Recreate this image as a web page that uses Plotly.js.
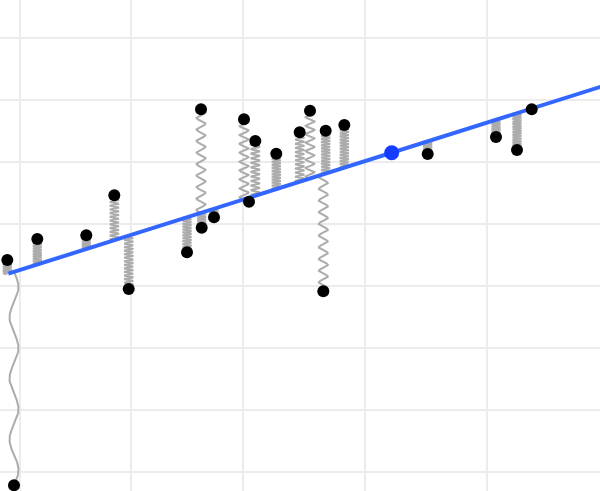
<!DOCTYPE html>
<html>
<head>
<meta charset="utf-8">
<script src="https://cdn.plot.ly/plotly-3.0.1.min.js"></script>
<style>html,body{margin:0;padding:0;background:#fff;}#chart{width:600px;height:491px;}</style>
</head>
<body>
<div id="chart"></div>
<script>
// Data points
const xs = [0.73, 1.40, 3.73, 8.63, 11.43, 12.87, 18.70, 20.10, 20.17, 21.40, 24.40, 24.90, 25.53, 27.63, 29.97, 31.00, 32.33, 32.57, 34.43, 42.77, 49.60, 51.70, 53.17];
const ys = [3.419, -0.215, 3.758, 3.818, 4.463, 2.952, 3.544, 5.850, 3.940, 4.108, 5.689, 4.360, 5.339, 5.134, 5.479, 5.827, 2.915, 5.505, 5.597, 5.129, 5.403, 5.194, 5.850];
// number of visible coils in each spring
const coils = [6, 3.5, 10, 6, 12, 15, 12, 9, 6, 4, 9, 2, 12, 12, 12, 8, 10, 14, 14, 6, 8, 14, 1];
// fitted line: pivot point and slope
const pivotX = [39.17];
const pivotY = [5.150];
const slope = [0.05087];
const lineX = [0.83, 62];
// grid positions
const xGrid = [2.0, 13.1, 24.3, 36.5, 48.7, 59.9];
const yGrid = [0, 1, 2, 3, 4, 5, 6, 7];

const lineAt = x => pivotY[0] + slope[0] * (x - pivotX[0]);

// springs
const sx = [], sy = [];
const amp = 0.45;
const steps = 300;
for (let i = 0; i < xs.length; i++) {
  const y0 = ys[i], y1 = lineAt(xs[i]);
  for (let k = 0; k <= steps; k++) {
    const t = k / steps;
    sx.push(xs[i] + amp * Math.sin(2 * Math.PI * coils[i] * t));
    sy.push(y0 + (y1 - y0) * t);
  }
  sx.push(null); sy.push(null);
}

const traces = [
  {x: sx, y: sy, mode: 'lines', line: {color: '#acacac', width: 2}, hoverinfo: 'skip'},
  {x: lineX, y: lineX.map(lineAt), mode: 'lines', line: {color: 'rgb(51,102,255)', width: 4}},
  {x: xs, y: ys, mode: 'markers', marker: {color: '#000', size: 12}},
  {x: pivotX, y: pivotY, mode: 'markers', marker: {color: 'rgb(20,60,255)', size: 15}}
];

const layout = {
  width: 600, height: 491,
  margin: {l: 0, r: 0, t: 0, b: 0, pad: 0},
  paper_bgcolor: '#fff', plot_bgcolor: '#fff',
  showlegend: false,
  xaxis: {range: [0, 60], tickmode: 'array', tickvals: xGrid, showticklabels: false, zeroline: false, showgrid: true, gridcolor: '#ececec', gridwidth: 2, showline: false, ticks: ''},
  yaxis: {range: [-0.3065, 7.6129], tickmode: 'array', tickvals: yGrid, showticklabels: false, zeroline: false, showgrid: true, gridcolor: '#ececec', gridwidth: 2, showline: false, ticks: ''}
};

Plotly.newPlot('chart', traces, layout, {displayModeBar: false, staticPlot: true});
</script>
</body>
</html>
